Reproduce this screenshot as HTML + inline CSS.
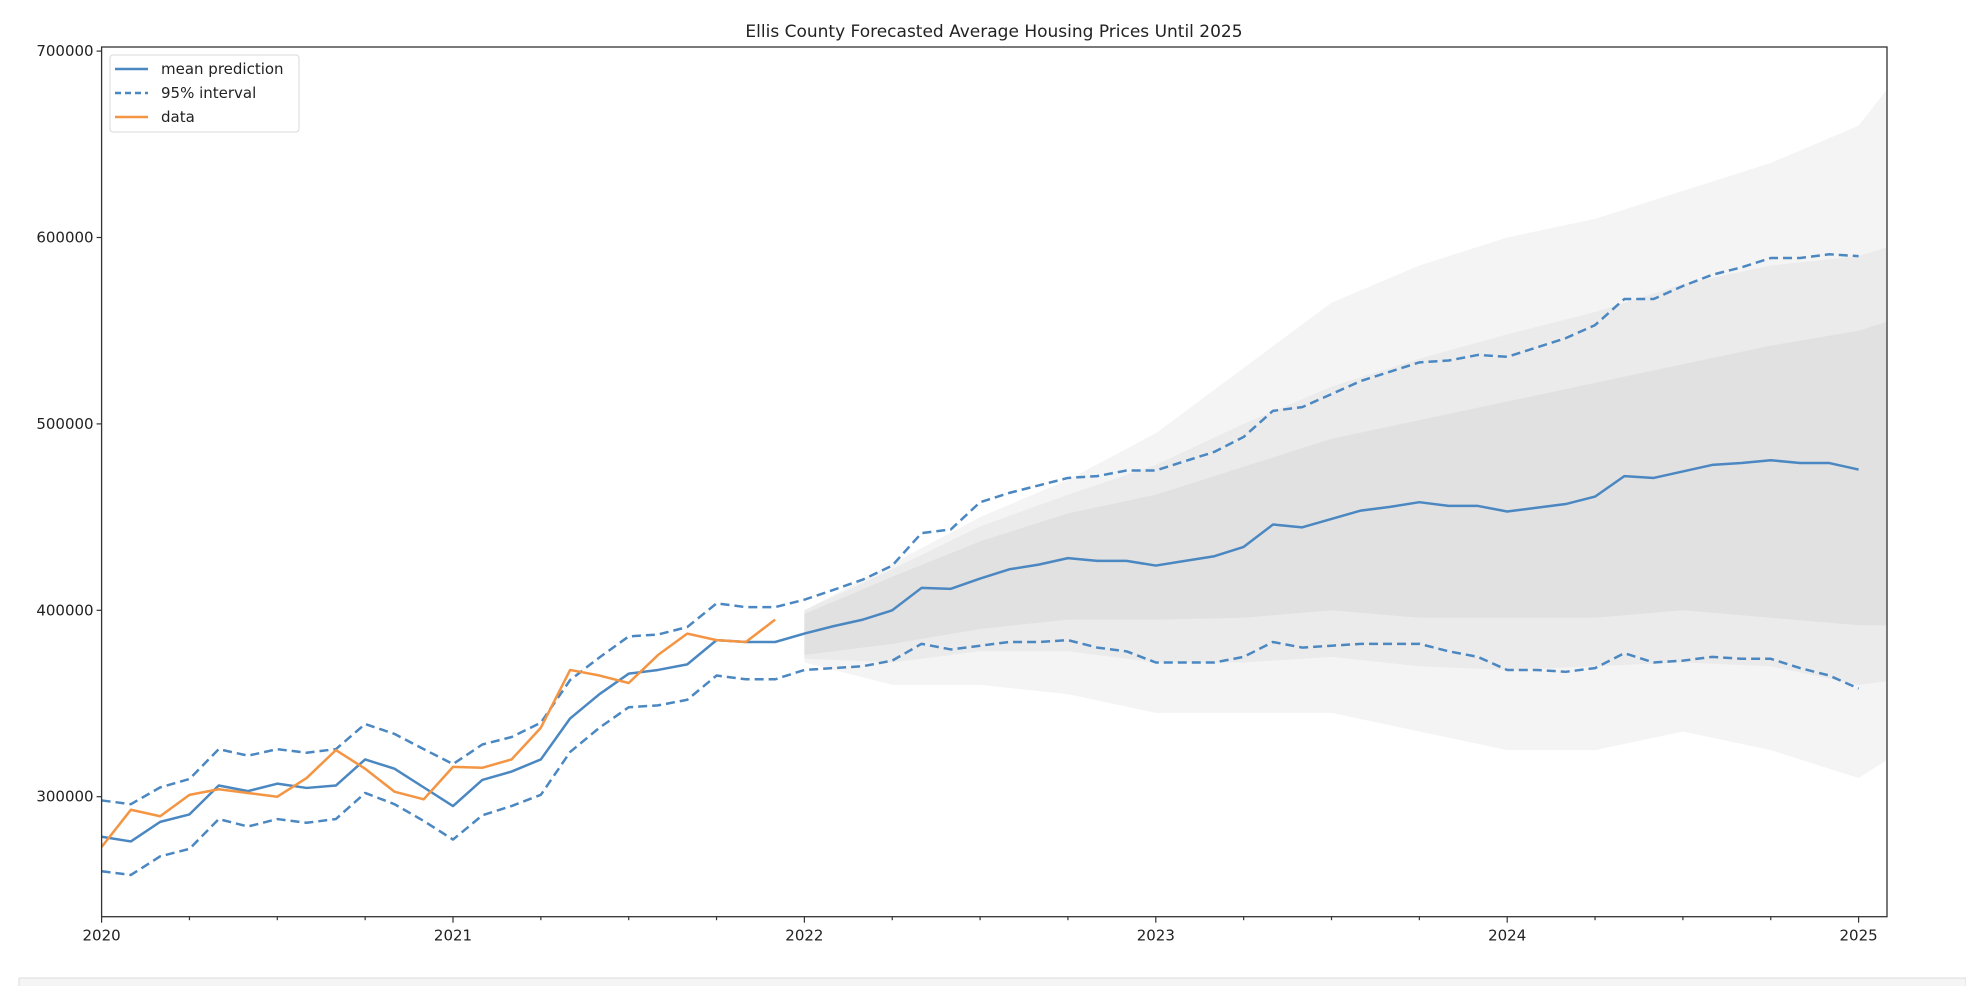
<!DOCTYPE html>
<html><head><meta charset="utf-8"><style>
body{margin:0;background:#fff;}
svg{display:block;font-family:"DejaVu Sans","Liberation Sans",sans-serif;}
</style></head><body>
<svg id="chart" width="1966" height="986" xmlns="http://www.w3.org/2000/svg">
<rect x="19" y="978" width="1947" height="10" fill="#f5f5f5" stroke="#dddddd"/>
<text x="994" y="37" text-anchor="middle" font-size="17" fill="#222">Ellis County Forecasted Average Housing Prices Until 2025</text>
<g id="plot"></g>
</svg>
<script>
// ---- data ----
const mean = [278.5,276,286.5,290.5,306,303,307,304.7,306,320,315,305,
295,309,313.5,320,342,355,366,368,371,384,383,383,
387.5,391.5,395,400,412,411.5,417,422,424.5,428,426.5,426.5,
424,426.5,429,434,446,444.5,449,453.5,455.5,458,456,456,
453,455,457,461,472,471,474.5,478,479,480.5,479,479,475.5];
const upper = [298,296,305,309.5,325.5,322,325.5,323.6,325.5,339,333.7,325.5,
317.5,328,332,339.7,362.6,374.7,386,387,391,403.7,401.7,401.7,
405.7,411,416.5,424,441.4,443.4,458,463,467,471,472,475,
475,480,485,493,507,509,516,523,528,533,534,537,
536,541,546,553,567,567,574,580,584,589,589,591,590];
const lower = [260,258,268,272,288,284,288,286,288,302,296,287,
277,290,295,301,324,337,348,349,352,365,363,363,
368,369,370,373,382,379,381,383,383,384,380,378,
372,372,372,375,383,380,381,382,382,382,378,375,
368,368,367,369,377,372,373,375,374,374,369,365,358];
const observed = [273,293,289.5,301,304,302,300,310,325,315,302.7,298.6,
316,315.5,320,337,368,365,361,376,387.5,384,383,395];
// sample-path cloud envelopes (thousands), at month indices
const cloudMonths = [24,27,30,33,36,39,42,45,48,51,54,57,60,61];
const cloudMax = [400,425,450,470,495,530,565,585,600,610,625,640,660,680];
const cloudMin = [372,360,360,355,345,345,345,335,325,325,335,325,310,320];
const midHi = [400,422,445,462,478,500,520,535,548,560,575,585,590,595];
const midLo = [374,372,378,378,372,372,375,370,368,370,372,370,360,362];
const coreHi = [398,418,437,452,462,477,492,502,512,522,532,542,550,555];
const coreLo = [376,382,390,395,395,396,400,396,396,396,400,396,392,392];
const yTicks = [300000,400000,500000,600000,700000];
const xTickLabels = ["2020","2021","2022","2023","2024","2025"];

// ---- axes ----
const L=101.6,R=1887,T=47,B=916.7;
const X = m => L + m/12*351.4;
const Y = v => 796.7 - (v-300000)*0.001864;
const Yk = k => Y(k*1000);
const NS="http://www.w3.org/2000/svg";
const g=document.getElementById('plot');
function mk(tag,attrs,parent){const e=document.createElementNS(NS,tag);for(const k in attrs)e.setAttribute(k,attrs[k]);(parent||g).appendChild(e);return e;}
const clip=mk('clipPath',{id:'pc'});mk('rect',{x:L,y:T,width:R-L,height:B-T},clip);
const area=mk('g',{'clip-path':'url(#pc)'});



function band(hi,lo,fill,name){
  let d='';cloudMonths.forEach((m,i)=>{d+=(i?'L':'M')+X(m)+','+Yk(hi[i]);});
  for(let i=cloudMonths.length-1;i>=0;i--)d+='L'+X(cloudMonths[i])+','+Yk(lo[i]);
  const p=mk('path',{d:d+'Z',fill:fill},area);
  
  
}
band(cloudMax,cloudMin,'#f4f4f4','sample-paths-outer-band');
band(midHi,midLo,'#ebebeb','sample-paths-mid-band');
band(coreHi,coreLo,'#e1e1e1','sample-paths-core-band');

function line(arr,color,dash,name,off){
  const pts=arr.map((v,i)=>X(i+(off||0))+','+Yk(v)).join(' ');
  const a={points:pts,fill:'none',stroke:color,'stroke-width':2.5,'stroke-linejoin':'round'};
  if(dash)a['stroke-dasharray']=dash;
  const p=mk('polyline',a,area);
  
  
}
line(upper,'#4b87c1','9,5','upper-95-interval');
line(lower,'#4b87c1','9,5','lower-95-interval');
line(mean,'#4b87c1',null,'mean-prediction-line');
line(observed,'#f39543',null,'observed-data-line');

// frame
const fr=mk('rect',{x:L,y:T,width:R-L,height:B-T,fill:'none',stroke:'#333','stroke-width':1.3});


// x ticks
for(let m=0;m<=60;m+=3){
  const major=m%12===0;
  const t=mk('line',{x1:X(m),x2:X(m),y1:B,y2:B+(major?6:3.5),stroke:'#333','stroke-width':1.2});
  
  
}
xTickLabels.forEach((lab,i)=>{
  const t=mk('text',{x:X(i*12),y:B+24,'text-anchor':'middle','font-size':15,fill:'#222'});
  t.textContent=lab;
  
  
});
yTicks.forEach(v=>{
  const t=mk('line',{x1:L-5,x2:L,y1:Y(v),y2:Y(v),stroke:'#333','stroke-width':1.2});
  
  
  const l=mk('text',{x:L-8,y:Y(v)+5,'text-anchor':'end','font-size':15,fill:'#222'});
  l.textContent=String(v);
  
  
});
// legend
const lg=mk('g',{});


mk('rect',{x:110,y:55,width:189,height:77,rx:3,fill:'#fff',stroke:'#d8d8d8'},lg);
[['mean prediction','#4b87c1',null],['95% interval','#4b87c1','6,4'],['data','#f39543',null]].forEach((e,i)=>{
  const y=69+i*24;
  const a={x1:115,x2:148,y1:y,y2:y,stroke:e[1],'stroke-width':2.5};
  if(e[2])a['stroke-dasharray']=e[2];
  const s=mk('line',a,lg);
  
  
  const t=mk('text',{x:161,y:y+5,'font-size':15,fill:'#222'},lg);
  t.textContent=e[0];
  
  
});
</script>
</body></html>
